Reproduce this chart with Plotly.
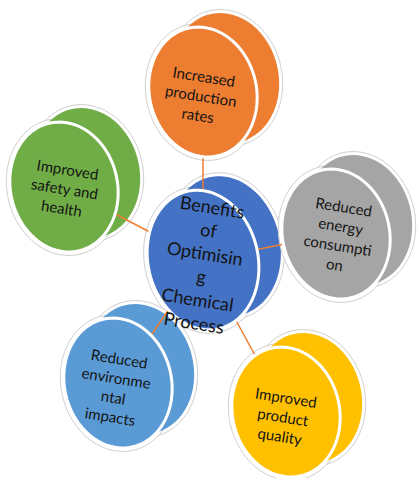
import numpy as np
import plotly.graph_objects as go

# ---- content ----
center_label = "Benefits<br>of<br>Optimisin<br>g<br>Chemical<br>Process"
center_color = "#4472C4"

node_labels = [
    "Increased<br>production<br>rates",
    "Reduced<br>energy<br>consumpti<br>on",
    "Improved<br>product<br>quality",
    "Reduced<br>environme<br>ntal<br>impacts",
    "Improved<br>safety and<br>health",
]
node_colors = ["#ED7D31", "#A5A5A5", "#FFC000", "#5B9BD5", "#70AD47"]

# ---- layout constants (pixel space) ----
W, H = 417, 478
CENTER_POS = (203, 260)
NODE_POS = [(203, 92), (336, 234), (286, 412), (118, 383), (64, 187)]
TEXT_POS = [(201, 95), (339, 235), (283, 416), (115, 387), (65, 188)]
CENTER_TEXT_POS = (203, 264)
SAT_AXES = (65.5, 53.5)
CEN_AXES = (70.5, 55)
TILT = 13
DEPTH = (22, -14)
LINE_COLOR = "#ED7D31"
TEXT_COLOR = "#141414"
FONT = "Lato, 'Noto Sans', sans-serif"


def ellipse_path(cx, cy, a, b, phi_deg, grow=0.0):
    a += grow
    b += grow
    t = np.linspace(0, 2 * np.pi, 97)
    x = b * np.cos(t)
    y = a * np.sin(t)
    c, s = np.cos(np.radians(phi_deg)), np.sin(np.radians(phi_deg))
    X = cx + x * c + y * s
    Y = cy - x * s + y * c
    pts = " L ".join(f"{xx:.2f},{yy:.2f}" for xx, yy in zip(X, Y))
    return "M " + pts + " Z"


def halo(cx, cy, a, b):
    return dict(type="path", path=ellipse_path(cx, cy, a, b, TILT, grow=3.5),
                fillcolor="white", line=dict(color="#CFCFCF", width=1),
                xref="x", yref="y", layer="above")


def fill(cx, cy, a, b, color, outline):
    return dict(type="path", path=ellipse_path(cx, cy, a, b, TILT),
                fillcolor=color,
                line=dict(color="white", width=3 if outline else 0),
                xref="x", yref="y", layer="above")


all_nodes = [(CENTER_POS, CEN_AXES, center_color)] + [
    (p, SAT_AXES, c) for p, c in zip(NODE_POS, node_colors)
]

shapes = []
# back parts (with halos)
for (cx, cy), (a, b), col in all_nodes:
    bx, by = cx + DEPTH[0], cy + DEPTH[1]
    shapes.append(halo(bx, by, a, b))
    shapes.append(halo(cx, cy, a, b))
    shapes.append(fill(bx, by, a, b, col, False))

# connectors
for (nx, ny) in NODE_POS:
    shapes.append(dict(type="line", x0=CENTER_POS[0], y0=CENTER_POS[1], x1=nx, y1=ny,
                       line=dict(color=LINE_COLOR, width=1.5), xref="x", yref="y",
                       layer="above"))

# front faces
for (cx, cy), (a, b), col in all_nodes:
    shapes.append(fill(cx, cy, a, b, col, True))

annotations = []
font_main = dict(family=FONT, size=15, color=TEXT_COLOR)
for (tx, ty), lab in zip(TEXT_POS, node_labels):
    annotations.append(dict(x=tx, y=ty, text=lab, showarrow=False, textangle=9,
                            font=font_main, xref="x", yref="y", align="center"))
annotations.append(dict(x=CENTER_TEXT_POS[0], y=CENTER_TEXT_POS[1], text=center_label,
                        showarrow=False, textangle=9,
                        font=dict(family=FONT, size=18, color=TEXT_COLOR),
                        xref="x", yref="y", align="center"))

fig = go.Figure()
fig.update_layout(
    width=W, height=H,
    margin=dict(l=0, r=0, t=0, b=0),
    paper_bgcolor="white", plot_bgcolor="white",
    xaxis=dict(range=[0, W], visible=False, fixedrange=True),
    yaxis=dict(range=[H, 0], visible=False, fixedrange=True),
    shapes=shapes,
    annotations=annotations,
    showlegend=False,
)
fig.write_html("out.html")
